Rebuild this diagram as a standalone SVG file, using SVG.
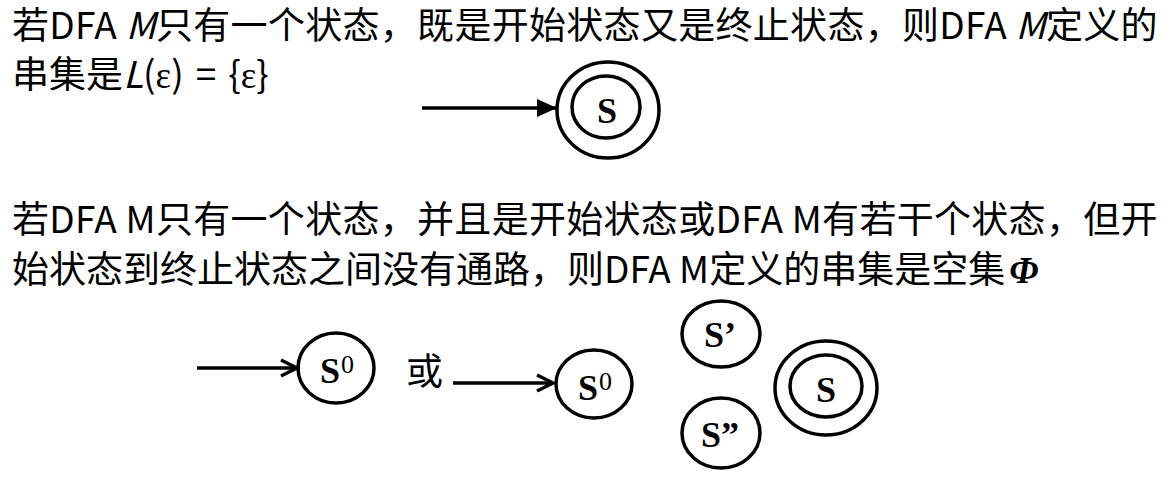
<svg xmlns="http://www.w3.org/2000/svg" width="1175" height="481" viewBox="0 0 1175 481">
<style>
.t{font-family:"Noto Sans CJK SC","Noto Sans",sans-serif;font-size:37px;fill:#000}
.w{letter-spacing:0.3px}
.lbl{font-family:"Liberation Serif","Times New Roman",serif;font-weight:bold;font-size:36px;fill:#000}
.sup{font-family:"Liberation Serif","Times New Roman",serif;font-size:26px;fill:#000}
.st{fill:none;stroke:#000;stroke-width:3.5}
.ln{fill:none;stroke:#000;stroke-width:3.5}
</style>
<defs>
<marker id="fill" markerUnits="userSpaceOnUse" markerWidth="22" markerHeight="20" refX="20" refY="9" orient="auto">
<path d="M0,0 L20,9 L0,18 Z" fill="#000"/>
</marker>
<marker id="open" markerUnits="userSpaceOnUse" markerWidth="22" markerHeight="22" refX="18" refY="10" orient="auto">
<path d="M2,2 L18,10 L2,18" fill="none" stroke="#000" stroke-width="3.5"/>
</marker>
</defs>
<rect width="1175" height="481" fill="#fff"/>
<g id="texts">
<text class="t w" x="12" y="39">若DFA <tspan font-style="italic">M</tspan>只有一个状态，既是开始状态又是终止状态，则DFA <tspan font-style="italic">M</tspan>定义的</text>
<text class="t" x="12" y="88">串集是<tspan font-style="italic">L</tspan>(<tspan font-family="Liberation Serif,serif">ε</tspan>)<tspan dx="12">=</tspan><tspan dx="12">{</tspan><tspan font-family="Liberation Serif,serif">ε</tspan>}</text>
<text class="t w" x="12" y="233">若DFA M只有一个状态，并且是开始状态或DFA M有若干个状态，但开</text>
<text class="t" x="12" y="283">始状态到终止状态之间没有通路，则DFA M定义的串集是空集<tspan dx="4" font-family="Liberation Serif,serif" font-weight="bold" font-style="italic">Φ</tspan></text>
<text class="t" x="406" y="385" font-size="30">或</text>
</g>
<g id="connectors">
<line class="ln" x1="422" y1="108" x2="557" y2="108" marker-end="url(#fill)"/>
<line class="ln" x1="197" y1="368" x2="297" y2="368" marker-end="url(#open)"/>
<line class="ln" x1="453" y1="383" x2="553" y2="383" marker-end="url(#open)"/>
</g>
<g id="node-S-top">
<ellipse class="st" cx="608" cy="110" rx="51" ry="48"/>
<ellipse class="st" cx="606" cy="107" rx="34" ry="31"/>
<text class="lbl" x="607" y="123" text-anchor="middle" font-size="40">S</text>
</g>
<g id="node-S0-a">
<ellipse class="st" cx="336" cy="368" rx="38" ry="35"/>
<text class="lbl" x="320" y="383" font-size="40">S</text>
<text class="sup" x="341" y="373">0</text>
</g>
<g id="node-S0-b">
<ellipse class="st" cx="594" cy="384" rx="38" ry="34"/>
<text class="lbl" x="578" y="400" font-size="40">S</text>
<text class="sup" x="599" y="390">0</text>
</g>
<g id="node-S1">
<ellipse class="st" cx="721" cy="334" rx="39" ry="33"/>
<text class="lbl" x="720" y="347" text-anchor="middle">S’</text>
</g>
<g id="node-S2">
<ellipse class="st" cx="721" cy="433" rx="39" ry="35"/>
<text class="lbl" x="720" y="447" text-anchor="middle">S”</text>
</g>
<g id="node-S-final">
<ellipse class="st" cx="826" cy="388" rx="51" ry="47"/>
<ellipse class="st" cx="826" cy="386" rx="36" ry="31"/>
<text class="lbl" x="826" y="402" text-anchor="middle">S</text>
</g>
</svg>
